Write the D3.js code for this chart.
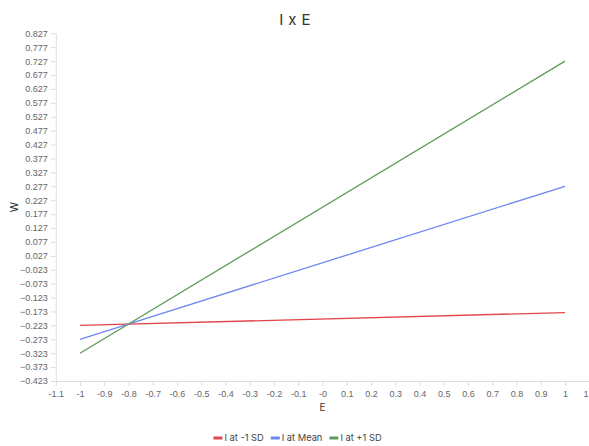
<!DOCTYPE html>
<html>
<head>
<meta charset="utf-8">
<script src="https://cdn.jsdelivr.net/npm/d3@7"></script>
<style>
  html, body { margin: 0; padding: 0; background: #fff; }
  svg { display: block; font-family: Inter, "Noto Sans", sans-serif; }
  .axis text { fill: #666; font-size: 9px; }
  .axis path, .axis line { stroke: #ddd; }
</style>
</head>
<body>
<svg id="chart" width="589" height="446"></svg>
<script>
// Simple slopes of W on E at three levels of I
const xValues = [-1, 1];
const seriesNames = ["I at -1 SD", "I at Mean", "I at +1 SD"];
const seriesColors = ["#e0474c", "#6f87f0", "#5e9a5a"];
const lowValues = [-0.223, -0.177];
const meanValues = [-0.273, 0.277];
const highValues = [-0.323, 0.727];
const xTicks = [-1.1, -1, -0.9, -0.8, -0.7, -0.6, -0.5, -0.4, -0.3, -0.2, -0.1, 0, 0.1, 0.2, 0.3, 0.4, 0.5, 0.6, 0.7, 0.8, 0.9, 1, 1.1];
const xTickLabels = ["-1.1", "-1", "-0.9", "-0.8", "-0.7", "-0.6", "-0.5", "-0.4", "-0.3", "-0.2", "-0.1", "-0", "0.1", "0.2", "0.3", "0.4", "0.5", "0.6", "0.7", "0.8", "0.9", "1", "1.1"];
const yTicks = [0.827, 0.777, 0.727, 0.677, 0.627, 0.577, 0.527, 0.477, 0.427, 0.377, 0.327, 0.277, 0.227, 0.177, 0.127, 0.077, 0.027, -0.023, -0.073, -0.123, -0.173, -0.223, -0.273, -0.323, -0.373, -0.423];

const series = [lowValues, meanValues, highValues].map((vals, i) => ({
  name: seriesNames[i],
  color: seriesColors[i],
  points: xValues.map((x, j) => ({ x, y: vals[j] }))
}));

const svg = d3.select("#chart");
const plotLeft = 55.75, plotRight = 589.25, plotTop = 33.3, plotBottom = 381;

const x = d3.scaleLinear().domain([-1.1, 1.1]).range([plotLeft, plotRight]);
const y = d3.scaleLinear().domain([-0.423, 0.827]).range([plotBottom, plotTop]);

// Axes
svg.append("g")
  .attr("class", "axis")
  .attr("transform", `translate(0,${plotBottom})`)
  .call(d3.axisBottom(x).tickValues(xTicks).tickSize(5).tickSizeOuter(0)
    .tickFormat((d, i) => xTickLabels[i]))
  .call(g => g.selectAll("text").attr("dy", "0.9em"));

svg.append("g")
  .attr("class", "axis")
  .attr("transform", `translate(${plotLeft},0)`)
  .call(d3.axisLeft(y).tickValues(yTicks).tickSize(5).tickSizeOuter(0)
    .tickFormat(d3.format(".3f")));

// Lines
const line = d3.line().x(d => x(d.x)).y(d => y(d.y));
svg.append("g").selectAll("path")
  .data(series)
  .join("path")
  .attr("d", d => line(d.points))
  .attr("fill", "none")
  .attr("stroke", d => d.color)
  .attr("stroke-width", 1.3);

// Title and axis labels
svg.append("text")
  .attr("x", 295).attr("y", 25)
  .attr("text-anchor", "middle")
  .attr("font-size", 15)
  .attr("letter-spacing", 0.4)
  .attr("fill", "#333")
  .text("I x E");

svg.append("text")
  .attr("x", (plotLeft + plotRight) / 2).attr("y", 410.5)
  .attr("text-anchor", "middle")
  .attr("font-size", 10)
  .attr("fill", "#333")
  .text("E");

svg.append("text")
  .attr("transform", "translate(18,207) rotate(-90)")
  .attr("text-anchor", "middle")
  .attr("font-size", 10.5)
  .attr("fill", "#333")
  .text("W");

// Legend: swatch + label, laid out left to right and centred
const legend = svg.append("g").attr("font-size", 9.3).attr("fill", "#444");
const items = series.map(s => {
  const g = legend.append("g");
  g.append("rect").attr("x", 0).attr("y", -1.5).attr("width", 9).attr("height", 3).attr("fill", s.color);
  const t = g.append("text").attr("x", 11).attr("y", 3.3).text(s.name);
  return { g, w: 11 + t.node().getComputedTextLength() };
});
const gap = 7;
const total = d3.sum(items, d => d.w) + gap * (items.length - 1);
let cx = 297.5 - total / 2;
items.forEach(it => {
  it.g.attr("transform", `translate(${cx},438)`);
  cx += it.w + gap;
});
</script>
</body>
</html>
